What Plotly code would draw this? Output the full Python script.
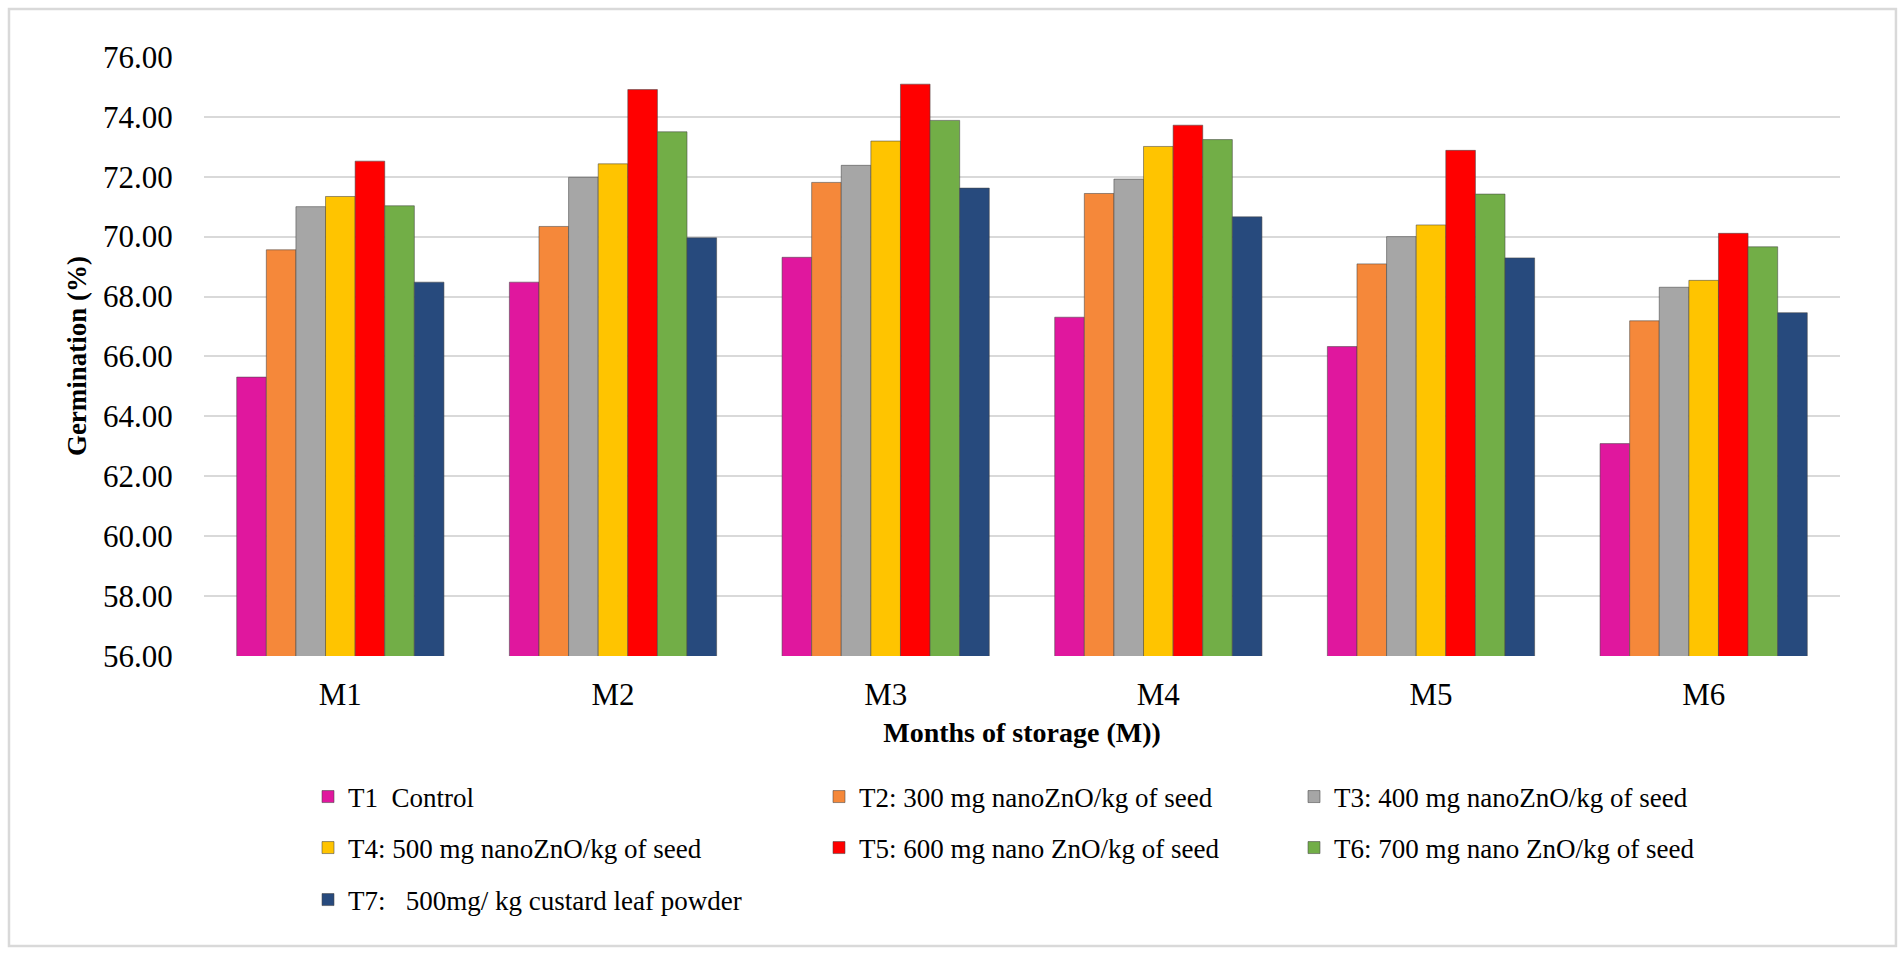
import plotly.graph_objects as go

# Storage months on the category axis
months = ["M1", "M2", "M3", "M4", "M5", "M6"]

# Germination (%) per treatment, one value per month
t1_control = [65.31, 68.48, 69.31, 67.31, 66.33, 63.09]
t2_300mg = [69.56, 70.34, 71.81, 71.44, 69.09, 67.19]
t3_400mg = [71.00, 71.98, 72.38, 71.92, 70.00, 68.31]
t4_500mg = [71.34, 72.43, 73.19, 73.01, 70.39, 68.54]
t5_600mg = [72.52, 74.91, 75.09, 73.72, 72.88, 70.11]
t6_700mg = [71.03, 73.50, 73.88, 73.24, 71.42, 69.66]
t7_custard = [68.48, 69.96, 71.62, 70.66, 69.29, 67.46]

treatment_names = [
    "T1\u00a0\u00a0Control",
    "T2: 300 mg nanoZnO/kg of seed",
    "T3: 400 mg nanoZnO/kg of seed",
    "T4: 500 mg nanoZnO/kg of seed",
    "T5: 600 mg nano ZnO/kg of seed",
    "T6: 700 mg nano ZnO/kg of seed",
    "T7:\u00a0\u00a0\u00a0500mg/ kg custard leaf powder",
]
treatment_values = [t1_control, t2_300mg, t3_400mg, t4_500mg,
                    t5_600mg, t6_700mg, t7_custard]
treatment_colors = ["#E0179E", "#F5883A", "#A6A6A6", "#FFC400",
                    "#FF0000", "#72AE47", "#274A7D"]

# y tick values and their two-decimal labels
y_ticks = [56, 58, 60, 62, 64, 66, 68, 70, 72, 74, 76]
y_tick_text = [f"{v:.2f}" for v in y_ticks]

SERIF = "Liberation Serif, Times New Roman, serif"

# legend grid: three columns, three rows (pixel positions in the page)
LEG_COL_X = [308, 819, 1294]
LEG_ROW_Y = [797, 848, 900]

fig = go.Figure()
legend_layout = {}
for i, (name, vals, color) in enumerate(zip(treatment_names, treatment_values,
                                            treatment_colors)):
    key = "legend" if i == 0 else f"legend{i + 1}"
    fig.add_trace(go.Bar(
        x=months, y=vals, name=name, legend=key, showlegend=True,
        marker=dict(color=color,
                    line=dict(color="rgba(70,70,70,0.55)", width=1)),
        hovertemplate="%{x}: %{y:.2f}%<extra>" + name + "</extra>",
    ))
    row, col = divmod(i, 3)
    legend_layout[key] = dict(
        orientation="h",
        xref="container", yref="container",
        xanchor="left", yanchor="middle",
        x=LEG_COL_X[col] / 1903, y=1 - LEG_ROW_Y[row] / 954,
        font=dict(family=SERIF, size=27, color="#000000"),
        bgcolor="rgba(0,0,0,0)", borderwidth=0,
        itemclick=False, itemdoubleclick=False,
    )

fig.update_layout(
    width=1903, height=954,
    margin=dict(l=204, r=63, t=56, b=298),
    paper_bgcolor="white", plot_bgcolor="white",
    showlegend=True,
    barmode="group", bargap=0.24, bargroupgap=0.0,
    font=dict(family=SERIF, color="#000000"),
    xaxis=dict(
        type="category",
        tickfont=dict(family=SERIF, size=31),
        ticks="outside", ticklen=11, tickcolor="rgba(0,0,0,0)",
        showgrid=False, showline=False, zeroline=False,
        title=dict(text="<b>Months of storage (M))</b>",
                   font=dict(family=SERIF, size=28), standoff=11),
    ),
    yaxis=dict(
        range=[56, 76.03],
        tickvals=y_ticks, ticktext=y_tick_text,
        tickfont=dict(family=SERIF, size=31),
        ticks="outside", ticklen=24, tickcolor="rgba(0,0,0,0)",
        showgrid=True, gridcolor="#D9D9D9", gridwidth=1.5,
        showline=False, zeroline=False,
        title=dict(text="<b>Germination (%)</b>",
                   font=dict(family=SERIF, size=27), standoff=8),
    ),
    shapes=[dict(
        type="rect", xref="paper", yref="paper",
        x0=-0.1192, x1=1.0342, y0=-0.4833, y1=1.0783,
        line=dict(color="#D9D9D9", width=2.5), fillcolor="rgba(0,0,0,0)",
        layer="below",
    )],
    **legend_layout,
)

fig.write_html("out.html")
